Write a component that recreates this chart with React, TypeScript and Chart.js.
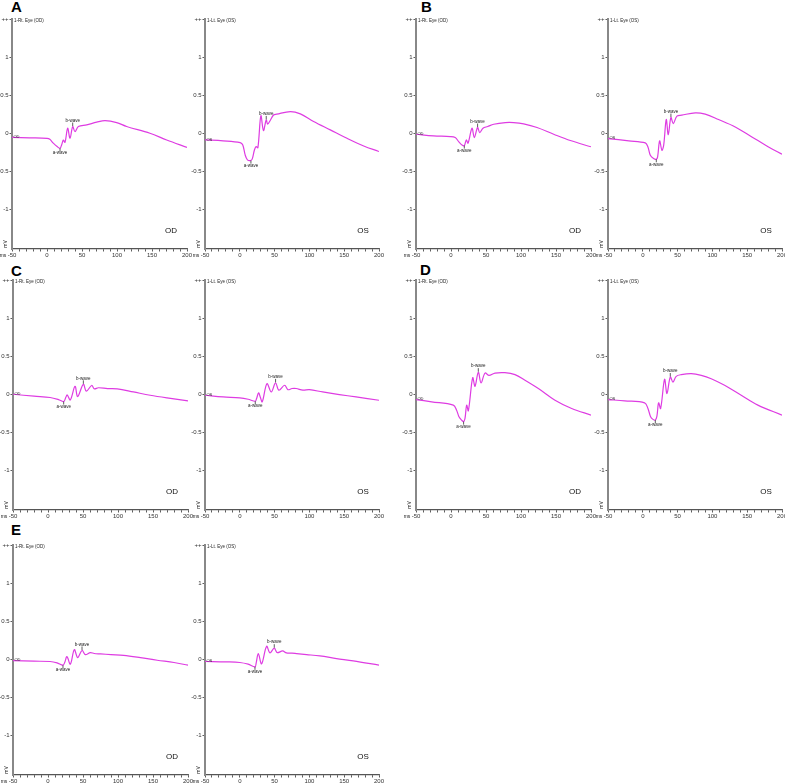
import React, { useEffect, useRef } from "react";
import { Chart, registerables } from "chart.js";

Chart.register(...registerables);

type Pt = [number, number];

// ---------- axis ticks ----------
const xTickValues = [-50, -40, -30, -20, -10, 0, 10, 20, 30, 40, 50, 60, 70, 80, 90, 100, 110, 120, 130, 140, 150, 160, 170, 180, 190, 200];
const xLabelValues = [-50, 0, 50, 100, 150, 200];
const yTickValues = [-1, -0.5, 0, 0.5, 1, 1.5];
const yTickLabels = ["-1", "-0.5", "0", "0.5", "1", "++"];

// ---------- traces (ms, mV) ----------
const traceA_OD: Pt[] = [[-50, -0.053], [-25, -0.06], [0, -0.068], [4, -0.08], [9, -0.13], [14.5, -0.175], [18.6, -0.197], [21, -0.15], [23.3, -0.09], [25.7, -0.12], [29.5, 0.066], [32.9, -0.066], [36.7, 0.088], [40, 0.02], [44.8, 0.088], [56.7, 0.11], [71, 0.145], [83, 0.165], [99.5, 0.14], [113.8, 0.088], [147, 0], [171, -0.088], [200, -0.185]];
const traceA_OS: Pt[] = [[-50, -0.088], [-24, -0.1], [0.5, -0.123], [4.3, -0.154], [7.7, -0.285], [11, -0.35], [15, -0.36], [17.8, -0.34], [21, -0.22], [23.5, -0.175], [26, -0.19], [30.3, 0.23], [34, 0.035], [38, 0.175], [40, 0.12], [43.7, 0.167], [48.5, 0.24], [53, 0.25], [72.6, 0.285], [87, 0.254], [106, 0.154], [130, 0.044], [154, -0.066], [178, -0.167], [200, -0.24]];
const traceB_OD: Pt[] = [[-50, -0.013], [-25, -0.035], [-1, -0.044], [6, -0.057], [11, -0.11], [15.7, -0.154], [19, -0.162], [21.9, -0.088], [24.3, -0.13], [30, 0.066], [33.3, -0.057], [38, 0.075], [41, 0.009], [45.7, 0.066], [52.4, 0.088], [61, 0.118], [77.6, 0.14], [89.5, 0.14], [103.8, 0.123], [122.9, 0.075], [146.7, -0.013], [170.5, -0.096], [200, -0.178]];
const traceB_OS: Pt[] = [[-50, -0.07], [-20, -0.1], [3.6, -0.127], [7.4, -0.18], [10.8, -0.29], [15.5, -0.333], [19.4, -0.342], [21.3, -0.31], [24.2, -0.1], [27.5, -0.223], [30, -0.158], [33.7, 0.18], [36.6, -0.018], [40.4, 0.206], [43.8, 0.127], [49, 0.224], [56, 0.237], [75.4, 0.268], [89.7, 0.25], [108.8, 0.18], [132.8, 0.083], [156.7, -0.048], [180.6, -0.18], [200, -0.276]];
const traceC_OD: Pt[] = [[-50, 0], [-20, -0.026], [3, -0.043], [15, -0.07], [22.4, -0.096], [25.5, -0.04], [27.5, -0.01], [31.9, -0.075], [38.6, 0.104], [42.4, -0.03], [50.5, 0.13], [54.8, 0.04], [62.4, 0.115], [66.2, 0.07], [72, 0.085], [85, 0.074], [99, 0.07], [122, 0.03], [146, -0.013], [170, -0.048], [200, -0.087]];
const traceC_OS: Pt[] = [[-50, -0.013], [-24, -0.035], [0, -0.048], [12, -0.066], [22.2, -0.092], [24, -0.06], [27, 0.018], [29.5, -0.04], [32.3, -0.1], [39, 0.14], [45.2, 0.03], [51.4, 0.149], [56.2, 0.053], [64.4, 0.118], [69.1, 0.06], [75, 0.075], [81, 0.075], [90.7, 0.053], [100, 0.061], [119, 0.03], [143, -0.004], [167, -0.035], [200, -0.079]];
const traceD_OD: Pt[] = [[-50, -0.07], [-27.6, -0.1], [3.3, -0.143], [8, -0.21], [11.4, -0.296], [15.2, -0.34], [18, -0.36], [20, -0.317], [22.4, -0.143], [24.8, -0.217], [31, 0.217], [34.3, 0.104], [39, 0.29], [42.9, 0.148], [48.6, 0.278], [54.3, 0.248], [62.9, 0.278], [77, 0.283], [91.4, 0.257], [105.7, 0.183], [124.8, 0.074], [148.6, -0.078], [172.4, -0.187], [200, -0.274]];
const traceD_OS: Pt[] = [[-50, -0.07], [-26, -0.087], [2.6, -0.113], [7.4, -0.187], [11.2, -0.296], [14.6, -0.33], [18, -0.34], [20.3, -0.287], [22.7, -0.113], [25.6, -0.187], [31.3, 0.196], [34.7, 0.009], [39.5, 0.226], [43.3, 0.16], [48, 0.235], [55.3, 0.257], [69.6, 0.27], [84, 0.248], [98.3, 0.204], [117.5, 0.117], [141.4, -0.013], [165.3, -0.143], [200, -0.274]];
const traceE_OD: Pt[] = [[-50, -0.017], [-20, -0.026], [3, -0.03], [13, -0.048], [21.4, -0.078], [24, -0.04], [27.1, 0.035], [31.9, -0.065], [37.6, 0.126], [42.4, 0.022], [48.6, 0.115], [53.3, 0.06], [60.5, 0.087], [66, 0.075], [75, 0.07], [90, 0.061], [108, 0.052], [132, 0.022], [156, -0.013], [180, -0.043], [200, -0.078]];
const traceE_OS: Pt[] = [[-50, -0.03], [-19, -0.035], [0, -0.043], [12, -0.065], [21.8, -0.1], [23.5, -0.05], [26.6, 0.074], [31.3, -0.06], [38.5, 0.17], [43.3, 0.083], [49.5, 0.145], [53.8, 0.087], [61.5, 0.109], [67, 0.083], [75, 0.08], [81.6, 0.074], [96, 0.061], [115, 0.043], [139, 0.009], [163, -0.022], [200, -0.078]];

// a-wave / b-wave points (ms, mV)
const aWaves: Pt[] = [[18.6, -0.197], [16, -0.36], [19, -0.162], [19.4, -0.342], [22.4, -0.096], [22.2, -0.092], [18, -0.36], [18, -0.34], [21.4, -0.078], [21.8, -0.1]];
const bWaves: Pt[] = [[36.7, 0.088], [38, 0.175], [38, 0.075], [40.4, 0.206], [50.5, 0.13], [51.4, 0.149], [39, 0.29], [39.5, 0.226], [48.6, 0.115], [49.5, 0.145]];

const traces: Pt[][] = [traceA_OD, traceA_OS, traceB_OD, traceB_OS, traceC_OD, traceC_OS, traceD_OD, traceD_OS, traceE_OD, traceE_OS];
const eyes = ["OD", "OS", "OD", "OS", "OD", "OS", "OD", "OS", "OD", "OS"];
const titles: Record<string, string> = { OD: "1-Rt. Eye (OD)", OS: "1-Lt. Eye (OS)" };
const panelLetters = ["A", "B", "C", "D", "E"];

// ---------- layout (pixels) ----------
const layout = [
  { ax: 12, rx: 187, top: 19, bottom: 249 },
  { ax: 205, rx: 379, top: 19, bottom: 249 },
  { ax: 416, rx: 591, top: 19, bottom: 249 },
  { ax: 608, rx: 782, top: 19, bottom: 249 },
  { ax: 13, rx: 188, top: 280, bottom: 510 },
  { ax: 205, rx: 379, top: 280, bottom: 510 },
  { ax: 416, rx: 591, top: 280, bottom: 510 },
  { ax: 608, rx: 782, top: 280, bottom: 510 },
  { ax: 13, rx: 188, top: 545, bottom: 775 },
  { ax: 205, rx: 379, top: 545, bottom: 775 },
];
const letterPos = [
  { left: 11, top: -1 },
  { left: 421, top: -1 },
  { left: 11, top: 263 },
  { left: 420, top: 262 },
  { left: 11, top: 522 },
];

const FONT = "'Liberation Sans', Arial, sans-serif";
const Y_W = 14;
const X_H = 14;
const PAD_T = 6;
const PAD_R = 6;
const LINE = "rgb(222, 60, 226)";

function Panel({ idx }: { idx: number }) {
  const ref = useRef<HTMLCanvasElement | null>(null);
  const L = layout[idx];
  const w = L.rx - L.ax + Y_W + PAD_R;
  const h = L.bottom - L.top + PAD_T + X_H;

  useEffect(() => {
    if (!ref.current) return;
    const eye = eyes[idx];
    const data = traces[idx].map(([x, y]) => ({ x, y }));
    const aw = aWaves[idx];
    const bw = bWaves[idx];
    const textPlugin = {
      id: "ergText" + idx,
      afterDraw(chart: any) {
        const { ctx, chartArea: ca, scales } = chart;
        const xs = scales.x;
        const ys = scales.y;
        ctx.save();
        ctx.fillStyle = "#222";
        ctx.strokeStyle = "#333";
        ctx.lineWidth = 0.8;
        // title
        ctx.font = `4.5px ${FONT}`;
        ctx.textAlign = "left";
        ctx.textBaseline = "middle";
        ctx.fillText(titles[eye], ca.left + 2, ca.top + 2);
        // channel label at trace start
        ctx.font = `4px ${FONT}`;
        ctx.fillText(eye, ca.left + 1.5, ys.getPixelForValue(traces[idx][0][1]) - 0.5);
        // units
        ctx.font = `5px ${FONT}`;
        ctx.textAlign = "center";
        ctx.fillText("ms", ca.left - 9, ca.bottom + 6.5);
        ctx.save();
        ctx.translate(ca.left - 6, ca.bottom - 5);
        ctx.rotate(-Math.PI / 2);
        ctx.fillText("mV", 0, 0);
        ctx.restore();
        // eye label
        ctx.font = `8px ${FONT}`;
        ctx.fillStyle = "#111";
        ctx.fillText(eye, ca.right - 16, ca.bottom - 18);
        // a-wave
        ctx.fillStyle = "#222";
        ctx.font = `4.5px ${FONT}`;
        const apx = xs.getPixelForValue(aw[0]);
        const apy = ys.getPixelForValue(aw[1]);
        ctx.beginPath();
        ctx.moveTo(apx, apy);
        ctx.lineTo(apx, apy + 3);
        ctx.stroke();
        ctx.fillText("a-wave", apx, apy + 5);
        // b-wave
        const bpx = xs.getPixelForValue(bw[0]);
        const bpy = ys.getPixelForValue(bw[1]);
        ctx.beginPath();
        ctx.moveTo(bpx, bpy - 0.5);
        ctx.lineTo(bpx, bpy - 4);
        ctx.stroke();
        ctx.fillText("b-wave", bpx, bpy - 6);
        ctx.restore();
      },
    };

    const chart = new Chart(ref.current, {
      type: "line",
      data: {
        datasets: [
          {
            data,
            borderColor: LINE,
            borderWidth: 1.2,
            pointRadius: 0,
            tension: 0.35,
            fill: false,
          },
        ],
      },
      options: {
        responsive: false,
        animation: false,
        events: [],
        layout: { padding: { top: PAD_T, right: PAD_R, left: 0, bottom: 0 } },
        plugins: { legend: { display: false }, tooltip: { enabled: false }, title: { display: false } },
        scales: {
          x: {
            type: "linear",
            min: -50,
            max: 200,
            afterFit: (s: any) => {
              s.height = X_H;
            },
            afterBuildTicks: (s: any) => {
              s.ticks = xTickValues.map((v) => ({ value: v }));
            },
            ticks: {
              autoSkip: false,
              maxRotation: 0,
              padding: 0,
              font: { size: 6, family: FONT },
              color: "#333",
              callback: (v: any) => (xLabelValues.includes(Number(v)) ? String(v) : ""),
            },
            grid: { drawOnChartArea: false, drawTicks: true, tickLength: 2.5, color: "#333", lineWidth: 0.8 },
            border: { display: true, color: "#555", width: 1.2 },
          },
          y: {
            type: "linear",
            min: -1.52,
            max: 1.5,
            afterFit: (s: any) => {
              s.width = Y_W;
            },
            afterBuildTicks: (s: any) => {
              s.ticks = yTickValues.map((v) => ({ value: v }));
            },
            ticks: {
              autoSkip: false,
              padding: 1,
              font: { size: 6, family: FONT },
              color: "#333",
              callback: (v: any) => {
                const i = yTickValues.indexOf(Number(v));
                return i >= 0 ? yTickLabels[i] : "";
              },
            },
            grid: { drawOnChartArea: false, drawTicks: true, tickLength: 2.5, color: "#333", lineWidth: 0.8 },
            border: { display: true, color: "#888", width: 2 },
          },
        },
      },
      plugins: [textPlugin],
    } as any);
    return () => chart.destroy();
  }, [idx]);

  return (
    <canvas
      ref={ref}
      width={w}
      height={h}
      style={{ position: "absolute", left: L.ax - Y_W, top: L.top - PAD_T, width: w, height: h }}
    />
  );
}

export default function App() {
  return (
    <div style={{ position: "absolute", left: 0, top: 0, width: 785, height: 783, background: "#fff", overflow: "hidden" }}>
      {panelLetters.map((l, i) => (
        <div
          key={l}
          style={{
            position: "absolute",
            left: letterPos[i].left,
            top: letterPos[i].top,
            font: `bold 15px ${FONT}`,
            lineHeight: "15px",
            color: "#000",
          }}
        >
          {l}
        </div>
      ))}
      {traces.map((_, i) => (
        <Panel key={i} idx={i} />
      ))}
    </div>
  );
}
